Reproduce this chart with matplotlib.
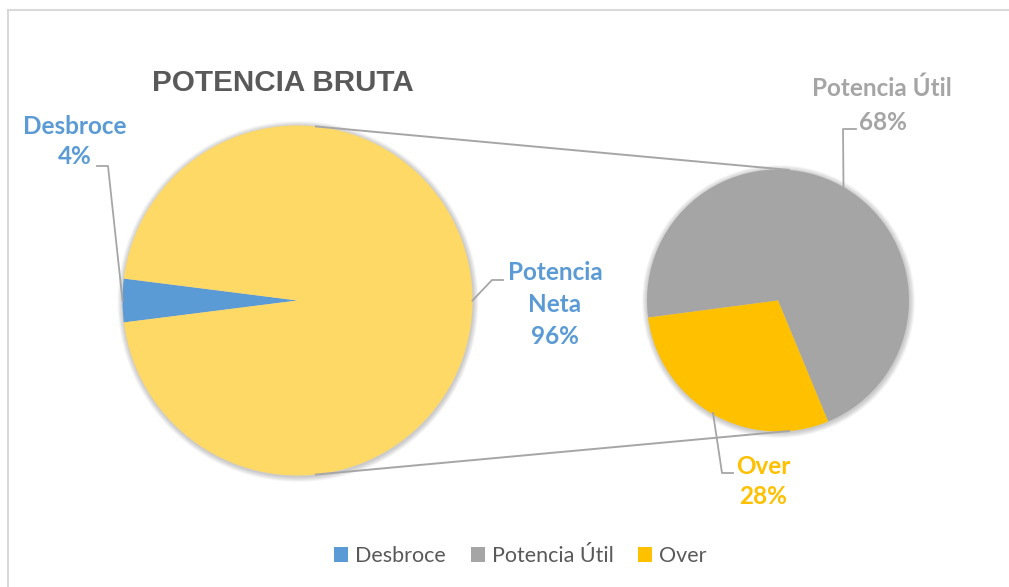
import numpy as np
import matplotlib
matplotlib.use("Agg")
import matplotlib.pyplot as plt
from matplotlib.patches import Patch, Circle

# ---- data ----
main_labels = ["Desbroce", "Potencia Neta"]
main_values = [4, 96]
sub_labels = ["Potencia Útil", "Over"]
sub_values = [68, 28]
legend_labels = ["Desbroce", "Potencia Útil", "Over"]
title = "POTENCIA BRUTA"

# ---- style ----
W, H = 1009, 587
C_BLUE = "#5B9BD5"
C_NETA = "#FFD966"
C_GRAY = "#A5A5A5"
C_OVER = "#FFC000"
C_TEXT = "#595959"
C_LINE = "#A6A6A6"
LBL_FONT = ["Lato", "DejaVu Sans"]

fig = plt.figure(figsize=(W / 100, H / 100), dpi=100)
ax = fig.add_axes([0, 0, 1, 1])


def P(x, y):
    """pixel (top-left origin) -> data coords"""
    return x, H - y


# pie geometry (layout)
c1 = P(297.5, 300.5)
r1 = 175
c2 = P(778, 300.5)
r2 = 131


def edge(c, r, ang):
    a = np.deg2rad(ang)
    return c[0] + r * np.cos(a), c[1] + r * np.sin(a)


# soft shadows
for c, r in [(c1, r1), (c2, r2)]:
    for k in range(1, 7):
        ax.add_patch(Circle((c[0] + 0.5, c[1] - 1), r + k * 0.9, color="#000000",
                            alpha=0.035, lw=0, zorder=1))

# main pie, Desbroce centred at 180 deg
desb_frac = main_values[0] / sum(main_values) * 360
ax.pie(main_values, colors=[C_BLUE, C_NETA], center=c1, radius=r1,
       startangle=180 - desb_frac / 2, counterclock=True,
       wedgeprops=dict(linewidth=0, zorder=2))

# secondary pie
ax.pie(sub_values, colors=[C_GRAY, C_OVER], center=c2, radius=r2,
       startangle=187.5, counterclock=False,
       wedgeprops=dict(linewidth=0, zorder=2))

# connector lines
for sgn in (1, -1):
    p1 = edge(c1, r1, sgn * 84.3)
    p2 = edge(c2, r2, sgn * 84.8)
    ax.plot([p1[0], p2[0]], [p1[1], p2[1]], color=C_LINE, lw=1.4, zorder=3,
            solid_capstyle="butt")

# leader lines
def leader(pts, color=C_LINE):
    xs = [p[0] for p in pts]
    ys = [p[1] for p in pts]
    ax.plot(xs, ys, color=color, lw=1.3, zorder=3)

leader([P(97, 166), P(108, 166), edge(c1, r1, 180)])
leader([P(503, 280), P(492, 280), edge(c1, r1, 0)])
leader([P(856, 129), P(843, 129), edge(c2, r2, 60)])
leader([P(733, 473), P(722, 473), P(713, 413)])

# data labels
def lbl(x, y, s, color):
    ax.text(*P(x, y), s, ha="center", va="center", color=color,
            fontsize=17.5, fontweight="bold", family=LBL_FONT, zorder=5)

lbl(75, 127, main_labels[0], C_BLUE)
lbl(75, 157, f"{main_values[0]}%", C_BLUE)
lbl(555, 272, "Potencia", C_BLUE)
lbl(555, 305, "Neta", C_BLUE)
lbl(555, 337, f"{main_values[1]}%", C_BLUE)
lbl(882, 88, sub_labels[0], C_GRAY)
lbl(883, 122, f"{sub_values[0]}%", C_GRAY)
lbl(763, 467, sub_labels[1], C_OVER)
lbl(763, 497, f"{sub_values[1]}%", C_OVER)

# title
ax.text(*P(282.5, 83), title, ha="center", va="center", color=C_TEXT,
        fontsize=21.3, fontweight="bold", family=["Liberation Sans", "DejaVu Sans"])

# frame (top and left visible)
ax.plot([8, W], [H - 10, H - 10], color="#D9D9D9", lw=1.5, zorder=0)
ax.plot([8, 8], [H - 10, 0], color="#D9D9D9", lw=1.5, zorder=0)

ax.set_xlim(0, W)
ax.set_ylim(0, H)
ax.set_aspect("auto")
ax.axis("off")

# legend
handles = [Patch(facecolor=c, edgecolor="none") for c in [C_BLUE, C_GRAY, C_OVER]]
leg = fig.legend(handles, legend_labels, loc="center", bbox_to_anchor=(520.5 / W, 1 - 556 / H),
                 ncol=3, frameon=False, handlelength=0.65, handleheight=0.65,
                 handletextpad=0.33, columnspacing=1.15,
                 prop={"family": LBL_FONT, "size": 15.5})
for t in leg.get_texts():
    t.set_color(C_TEXT)

fig.savefig("out.png", dpi=100, facecolor="white")
